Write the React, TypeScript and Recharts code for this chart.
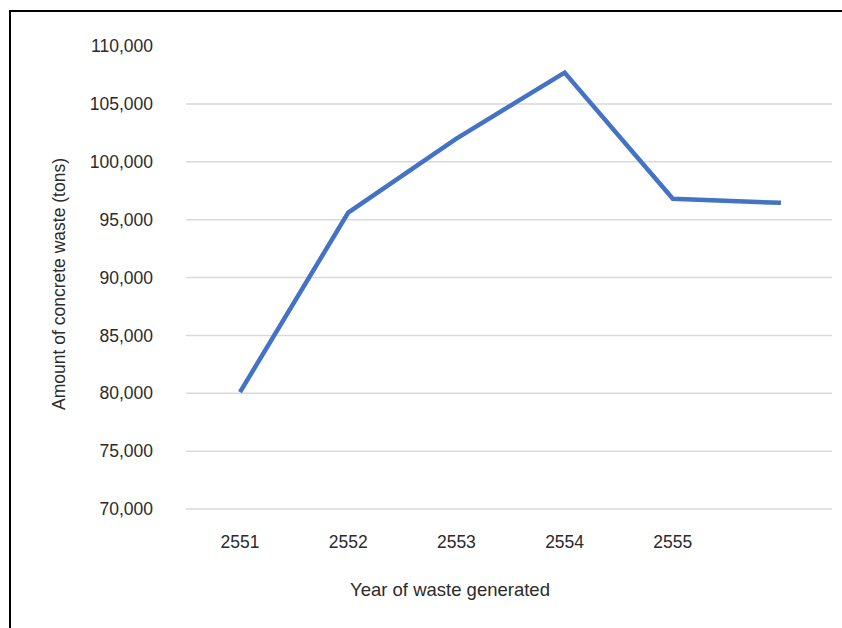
import { CartesianGrid, Label, Line, LineChart, XAxis, YAxis } from "recharts";

const YEARS = ["2551", "2552", "2553", "2554", "2555", ""];
const WASTE_TONS = [80100, 95600, 102000, 107700, 96800, 96450];
const Y_TICKS = [70000, 75000, 80000, 85000, 90000, 95000, 100000, 105000, 110000];
const GRID_VALUES = Y_TICKS.slice(0, -1);

const data = YEARS.map((year, i) => ({ year, waste: WASTE_TONS[i] }));

const FONT = "'Liberation Sans', Arial, sans-serif";
const TEXT = "#2b2b2b";

export default function App() {
  return (
    <div
      style={{
        position: "absolute",
        left: 0,
        top: 0,
        width: 842,
        height: 628,
        overflow: "hidden",
        background: "#fff",
        fontFamily: FONT,
      }}
    >
      <div
        style={{
          position: "absolute",
          left: 9,
          top: 10,
          width: 900,
          height: 700,
          borderLeft: "2px solid #000",
          borderTop: "2px solid #000",
        }}
      />
      <div style={{ position: "absolute", left: 0, top: 0 }}>
        <LineChart
          width={842}
          height={628}
          data={data}
          margin={{ top: 46, right: 10, bottom: 0, left: 0 }}
        >
          <CartesianGrid
            vertical={false}
            stroke="#d9d9d9"
            strokeWidth={1.5}
            horizontalValues={GRID_VALUES}
          />
          <XAxis
            dataKey="year"
            axisLine={false}
            tickLine={false}
            tickSize={0}
            tickMargin={27}
            height={119}
            interval={0}
            padding={{ left: 54, right: 51 }}
            tick={{ fill: TEXT, fontSize: 17.5, fontFamily: FONT }}
          >
            <Label
              content={() => (
                <text
                  x={450}
                  y={596}
                  textAnchor="middle"
                  fill={TEXT}
                  fontSize={18.5}
                  fontFamily={FONT}
                >
                  Year of waste generated
                </text>
              )}
            />
          </XAxis>
          <YAxis
            domain={[70000, 110000]}
            ticks={Y_TICKS}
            interval={0}
            axisLine={false}
            tickLine={false}
            tickSize={0}
            tickMargin={33}
            width={186}
            tick={{ fill: TEXT, fontSize: 17.5, fontFamily: FONT }}
            tickFormatter={(v: number) => v.toLocaleString("en-US")}
          >
            <Label
              content={() => (
                <text
                  x={65}
                  y={284}
                  transform="rotate(-90 65 284)"
                  textAnchor="middle"
                  fill={TEXT}
                  fontSize={17.5}
                  fontFamily={FONT}
                >
                  Amount of concrete waste (tons)
                </text>
              )}
            />
          </YAxis>
          <Line
            type="linear"
            dataKey="waste"
            stroke="#4472c4"
            strokeWidth={4.5}
            dot={false}
            activeDot={false}
            isAnimationActive={false}
          />
        </LineChart>
      </div>
    </div>
  );
}
